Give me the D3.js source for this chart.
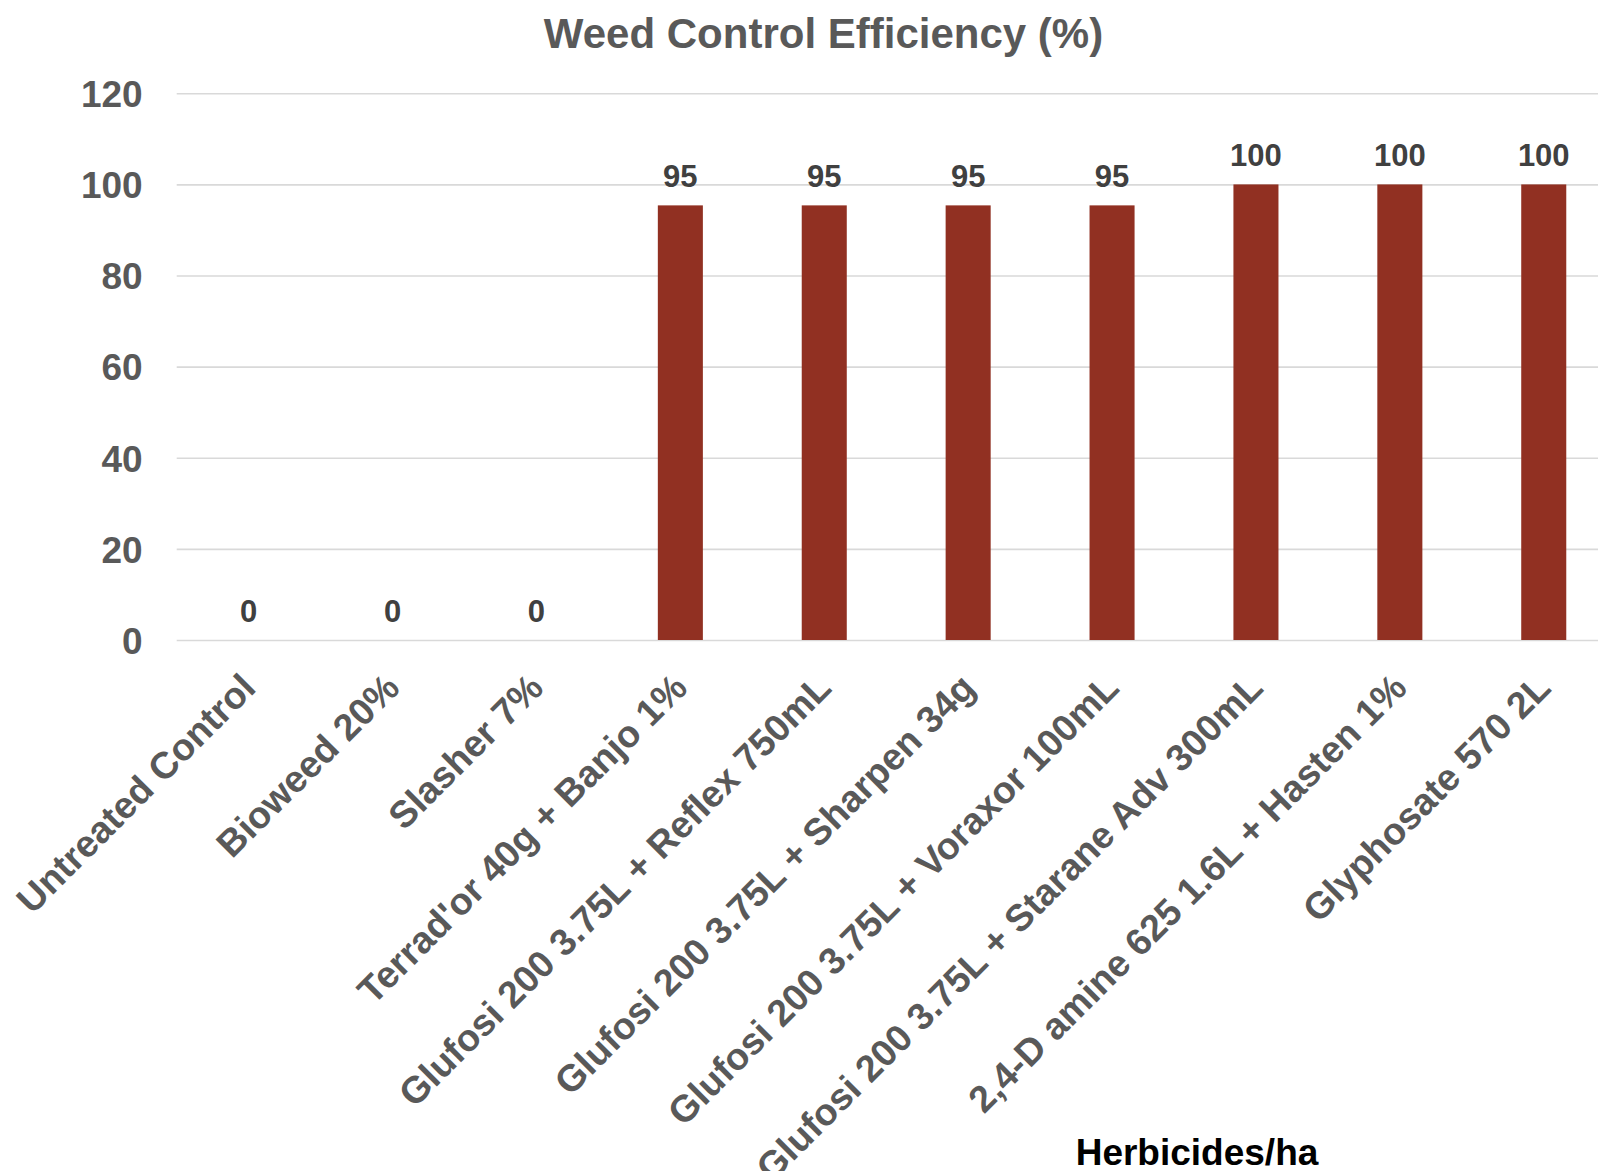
<!DOCTYPE html>
<html>
<head>
<meta charset="utf-8">
<script src="https://cdn.jsdelivr.net/npm/d3@7"></script>
<style>
  body { margin: 0; background: #fff; }
  svg { display: block; }
  text { font-family: "Liberation Sans", Arial, sans-serif; font-weight: bold; }
</style>
</head>
<body>
<script>
var categories = [
    "Untreated Control",
    "Bioweed 20%",
    "Slasher 7%",
    "Terrad'or 40g + Banjo 1%",
    "Glufosi 200 3.75L + Reflex 750mL",
    "Glufosi 200 3.75L + Sharpen 34g",
    "Glufosi 200 3.75L + Voraxor 100mL",
    "Glufosi 200 3.75L + Starane Adv 300mL",
    "2,4-D amine 625 1.6L + Hasten 1%",
    "Glyphosate 570 2L"
];
var efficiency = [0, 0, 0, 95.4, 95.4, 95.4, 95.4, 100, 100, 100];
var yTicks = [0, 20, 40, 60, 80, 100, 120];

var width = 1598,
    height = 1171;

var svg = d3.select("body").append("svg")
    .attr("width", width)
    .attr("height", height);

var x = d3.scaleBand()
    .domain(categories)
    .range([176.7, 1615.7])
    .paddingInner(0.687)
    .paddingOuter(0.3435);

var y = d3.scaleLinear()
    .domain([0, 120])
    .range([640, 93.3]);

// gridlines + y labels
var yAxis = svg.append("g")
    .attr("transform", "translate(176.7,0)")
    .call(d3.axisLeft(y).tickValues(yTicks).tickSize(-(width - 176.7)).tickPadding(34));

yAxis.select(".domain").remove();
yAxis.selectAll(".tick line")
    .attr("stroke", "#d9d9d9")
    .attr("stroke-width", 1.6);
yAxis.selectAll(".tick text")
    .attr("fill", "#595959")
    .attr("font-size", "37px")
    .attr("dy", "0.36em");

// bars
svg.selectAll(".bar")
    .data(efficiency)
    .enter().append("rect")
    .attr("class", "bar")
    .attr("x", function (d, i) { return x(categories[i]); })
    .attr("width", x.bandwidth())
    .attr("y", function (d) { return y(d); })
    .attr("height", function (d) { return y(0) - y(d); })
    .attr("fill", "#913022");

// value labels
svg.selectAll(".val")
    .data(efficiency)
    .enter().append("text")
    .attr("class", "val")
    .attr("x", function (d, i) { return x(categories[i]) + x.bandwidth() / 2; })
    .attr("y", function (d) { return y(d) - 18; })
    .attr("text-anchor", "middle")
    .attr("font-size", "31px")
    .attr("fill", "#404040")
    .text(function (d) { return d3.format(".0f")(d); });

// category labels, rotated
svg.selectAll(".cat")
    .data(categories)
    .enter().append("text")
    .attr("class", "cat")
    .attr("transform", function (d) {
        var cx = x(d) + x.bandwidth() / 2 + 9;
        return "translate(" + cx + ",690) rotate(-45)";
    })
    .attr("text-anchor", "end")
    .attr("font-size", "37.5px")
    .attr("fill", "#595959")
    .text(function (d) { return d; });

// title
svg.append("text")
    .attr("x", 823.5)
    .attr("y", 48)
    .attr("text-anchor", "middle")
    .attr("font-size", "42px")
    .attr("fill", "#595959")
    .text("Weed Control Efficiency (%)");

// axis title
svg.append("text")
    .attr("x", 1197)
    .attr("y", 1165)
    .attr("text-anchor", "middle")
    .attr("font-size", "37px")
    .attr("fill", "#000")
    .text("Herbicides/ha");
</script>
</body>
</html>
